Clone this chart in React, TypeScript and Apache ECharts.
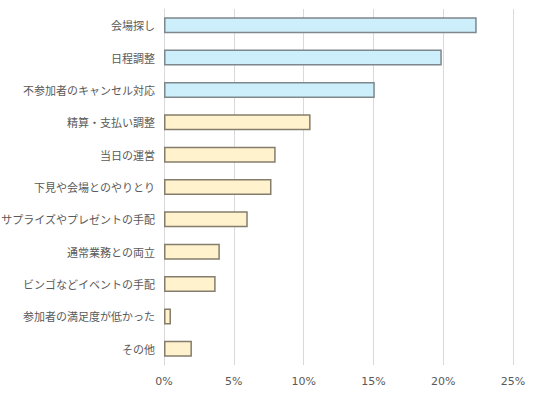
import React, { useEffect, useRef } from "react";
import * as echarts from "echarts";

const categories = [
  "会場探し",
  "日程調整",
  "不参加者のキャンセル対応",
  "精算・支払い調整",
  "当日の運営",
  "下見や会場とのやりとり",
  "サプライズやプレゼントの手配",
  "通常業務との両立",
  "ビンゴなどイベントの手配",
  "参加者の満足度が低かった",
  "その他",
];
const values = [22.4, 19.9, 15.1, 10.5, 8.0, 7.7, 6.0, 4.0, 3.7, 0.5, 2.0];
const highlightCount = 3;

export default function App() {
  const ref = useRef<HTMLDivElement>(null);
  useEffect(() => {
    const chart = echarts.init(ref.current!, undefined, { renderer: "svg" });
    const data = values.map((v, i) => ({
      value: v,
      itemStyle:
        i < highlightCount
          ? { color: "#cdeefb", borderColor: "#7d878c", borderWidth: 1.5 }
          : { color: "#fff2cc", borderColor: "#857d6c", borderWidth: 1.5 },
    }));
    chart.setOption({
      animation: false,
      grid: {
        left: 164,
        right: 23,
        top: 9,
        bottom: 28,
        containLabel: false,
        outerBoundsMode: "none",
      },
      xAxis: {
        type: "value",
        min: 0,
        max: 25,
        interval: 5,
        axisLine: { show: false },
        axisTick: { show: false },
        splitLine: { show: true, lineStyle: { color: "#d9d9d9", width: 1 } },
        axisLabel: {
          formatter: "{value}%",
          color: "#595959",
          fontFamily: "DejaVu Sans",
          fontSize: 11,
          margin: 11,
        },
      },
      yAxis: {
        type: "category",
        data: categories,
        inverse: true,
        axisLine: { show: true, lineStyle: { color: "#d9d9d9", width: 1 } },
        axisTick: { show: false },
        axisLabel: {
          color: "#595959",
          fontFamily: "Noto Sans CJK JP",
          fontSize: 11,
          margin: 9,
        },
      },
      series: [
        {
          type: "bar",
          data,
          barWidth: 16,
        },
      ],
    });
    return () => chart.dispose();
  }, []);
  return <div ref={ref} style={{ width: 536, height: 393, position: "absolute", left: 0, top: 0, background: "#fff" }} />;
}
